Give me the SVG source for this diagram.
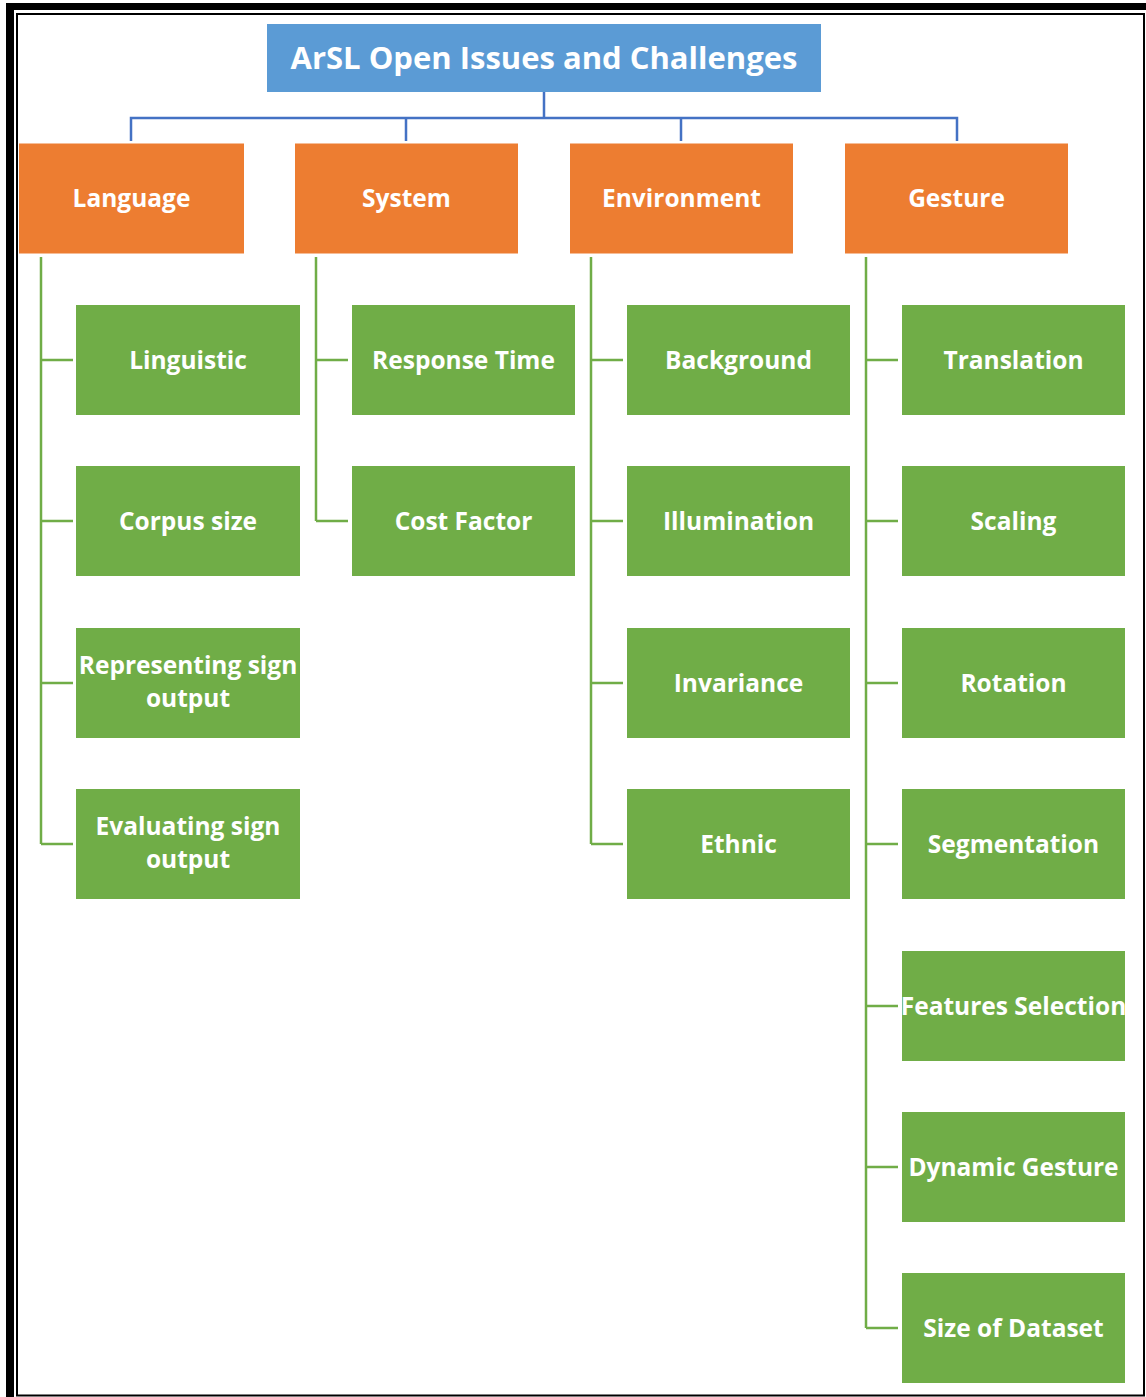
<svg xmlns="http://www.w3.org/2000/svg" width="1146" height="1397" viewBox="0 0 1146 1397">
<style>
.t{font-family:"Open Sans","Noto Sans","Liberation Sans",sans-serif;font-weight:700;fill:#fff;text-anchor:middle}
.s{font-size:24.5px}
.root{fill:#5B9BD5}
.cat{fill:#ED7D31}
.leaf{fill:#70AD47}
.blue{stroke:#4472C4;stroke-width:2.5;fill:none}
.green{stroke:#70AD47;stroke-width:2.5;fill:none}
</style>
<rect width="1146" height="1397" fill="#fff"/>
<g id="border">
<rect x="6" y="3" width="1140" height="7" fill="#000"/>
<rect x="6" y="3" width="8" height="1394" fill="#000"/>
<rect x="17" y="14" width="1127" height="1381.5" fill="none" stroke="#000" stroke-width="2"/>
</g>
<g id="connectors">
<path class="blue" d="M544 92V118M131 141V118H957V141M406 118V141M681 118V141"/>
<path class="green" d="M41 257V844M41 360H73M41 521H73M41 683H73M41 844H73"/>
<path class="green" d="M316 257V521M316 360H348M316 521H348"/>
<path class="green" d="M591 257V844M591 360H623M591 521H623M591 683H623M591 844H623"/>
<path class="green" d="M866 257V1328M866 360H898M866 521H898M866 683H898M866 844H898M866 1006H898M866 1167H898M866 1328H898"/>
</g>
<g id="root"><rect class="root" x="267" y="24" width="554" height="68"/><text class="t" x="544" y="69" font-size="31">ArSL Open Issues and Challenges</text></g>
<g id="language"><rect class="cat" x="19" y="143.5" width="225" height="110"/><text class="t s" x="131.5" y="207">Language</text></g>
<g id="system"><rect class="cat" x="295" y="143.5" width="223" height="110"/><text class="t s" x="406.5" y="207">System</text></g>
<g id="environment"><rect class="cat" x="570" y="143.5" width="223" height="110"/><text class="t s" x="681.5" y="207">Environment</text></g>
<g id="gesture"><rect class="cat" x="845" y="143.5" width="223" height="110"/><text class="t s" x="956.5" y="207">Gesture</text></g>

<g id="linguistic"><rect class="leaf" x="76" y="305" width="224" height="110"/><text class="t s" x="188" y="369">Linguistic</text></g>
<g id="corpus-size"><rect class="leaf" x="76" y="466" width="224" height="110"/><text class="t s" x="188" y="530">Corpus size</text></g>
<g id="representing"><rect class="leaf" x="76" y="628" width="224" height="110"/><text class="t s" x="188" y="674">Representing sign</text><text class="t s" x="188" y="706.5">output</text></g>
<g id="evaluating"><rect class="leaf" x="76" y="789" width="224" height="110"/><text class="t s" x="188" y="835">Evaluating sign</text><text class="t s" x="188" y="867.5">output</text></g>

<g id="response-time"><rect class="leaf" x="352" y="305" width="223" height="110"/><text class="t s" x="463.5" y="369">Response Time</text></g>
<g id="cost-factor"><rect class="leaf" x="352" y="466" width="223" height="110"/><text class="t s" x="463.5" y="530">Cost Factor</text></g>

<g id="background"><rect class="leaf" x="627" y="305" width="223" height="110"/><text class="t s" x="738.5" y="369">Background</text></g>
<g id="illumination"><rect class="leaf" x="627" y="466" width="223" height="110"/><text class="t s" x="738.5" y="530">Illumination</text></g>
<g id="invariance"><rect class="leaf" x="627" y="628" width="223" height="110"/><text class="t s" x="738.5" y="692">Invariance</text></g>
<g id="ethnic"><rect class="leaf" x="627" y="789" width="223" height="110"/><text class="t s" x="738.5" y="853">Ethnic</text></g>

<g id="translation"><rect class="leaf" x="902" y="305" width="223" height="110"/><text class="t s" x="1013.5" y="369">Translation</text></g>
<g id="scaling"><rect class="leaf" x="902" y="466" width="223" height="110"/><text class="t s" x="1013.5" y="530">Scaling</text></g>
<g id="rotation"><rect class="leaf" x="902" y="628" width="223" height="110"/><text class="t s" x="1013.5" y="692">Rotation</text></g>
<g id="segmentation"><rect class="leaf" x="902" y="789" width="223" height="110"/><text class="t s" x="1013.5" y="853">Segmentation</text></g>
<g id="features-selection"><rect class="leaf" x="902" y="951" width="223" height="110"/><text class="t s" x="1013.5" y="1015">Features Selection</text></g>
<g id="dynamic-gesture"><rect class="leaf" x="902" y="1112" width="223" height="110"/><text class="t s" x="1013.5" y="1176">Dynamic Gesture</text></g>
<g id="size-of-dataset"><rect class="leaf" x="902" y="1273" width="223" height="110"/><text class="t s" x="1013.5" y="1337">Size of Dataset</text></g>
</svg>
